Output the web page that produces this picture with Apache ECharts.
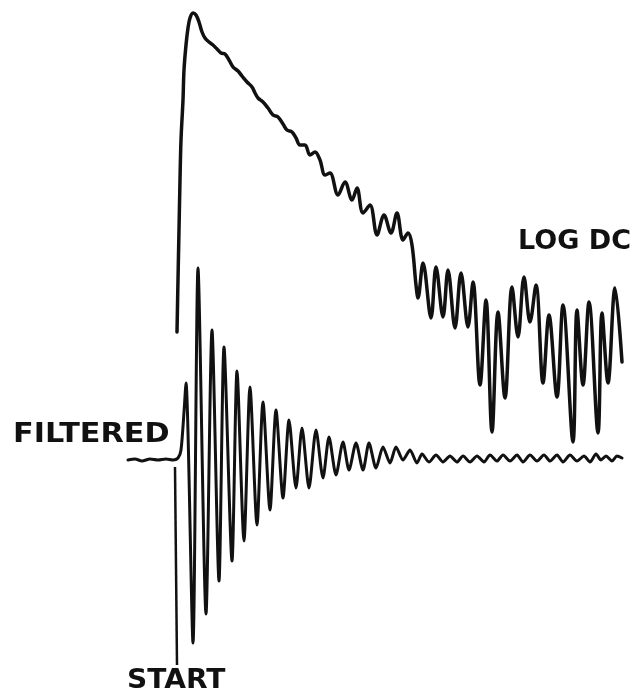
<!DOCTYPE html>
<html>
<head>
<meta charset="utf-8">
<style>
  html, body { margin: 0; padding: 0; background: #ffffff; }
  #chart { width: 640px; height: 699px; }
</style>
<script src="https://cdn.jsdelivr.net/npm/echarts@6/dist/echarts.min.js"></script>
</head>
<body>
<div id="chart"></div>
<script>
// Time base (arbitrary units, 0 = start trigger)
const logDcTime = [1, 2, 3, 4, 5, 7, 8, 10, 12, 14, 17, 20, 23, 26, 29, 33, 37, 41, 45, 49, 53, 57, 62, 66, 71, 76, 79, 82, 87, 92, 97, 102, 107, 111, 116, 120, 124, 129, 134, 139, 144, 149, 154, 162, 169, 176, 181, 187, 194, 201, 208, 215, 221, 227, 232, 236, 240, 242, 247, 255, 260, 267, 272, 279, 285, 292, 297, 304, 310, 316, 322, 329, 336, 342, 348, 354, 360, 367, 373, 381, 387, 397, 401, 407, 413, 422, 426, 432, 439, 446];
// Log DC level (arbitrary units)
const logDcLevel = [0, 52, 102, 152, 192, 232, 262, 287, 304, 314, 319, 317, 310, 300, 294, 290, 287, 283, 279, 278, 272, 265, 261, 256, 250, 245, 239, 234, 230, 224, 217, 215, 208, 202, 200, 194, 187, 187, 177, 180, 172, 157, 159, 137, 150, 132, 144, 119, 127, 97, 117, 99, 119, 92, 99, 87, 47, 34, 69, 14, 65, 15, 62, 4, 59, 5, 50, -53, 32, -100, 20, -66, 45, -5, 55, 10, 47, -51, 17, -65, 27, -110, 22, -53, 30, -101, 19, -51, 44, -30];

// Filtered signal: ringing after the start trigger
const filteredTime = [-48, -41, -34, -26, -18, -10, -3, 2, 5, 8, 10, 17, 22, 30, 36, 43, 48, 56, 61, 68, 74, 81, 87, 94, 100, 107, 113, 120, 126, 133, 140, 147, 153, 160, 167, 173, 180, 187, 193, 200, 207, 214, 220, 227, 234, 241, 246, 253, 260, 267, 274, 281, 287, 294, 301, 308, 314, 321, 327, 334, 341, 347, 354, 361, 368, 374, 381, 387, 394, 401, 408, 414, 420, 425, 430, 436, 441, 446];
const filteredAmp = [-1, 0, -2, 0, -1, 0, -1, 1, 9, 47, 76, -184, 191, -155, 129, -122, 112, -102, 88, -82, 72, -66, 57, -51, 49, -39, 39, -29, 31, -29, 29, -19, 22, -16, 17, -11, 16, -11, 16, -9, 12, -4, 12, -1, 9, -4, 5, -3, 4, -3, 3, -3, 3, -3, 3, -3, 4, -2, 4, -2, 4, -3, 4, -2, 4, -2, 4, -3, 4, -2, 3, -3, 5, -1, 3, -2, 3, 1];

// Start trigger marker
const startTime = [-1, 1];
const startAmp = [-8, -206];

const zip = (xs, ys) => xs.map((x, i) => [x, ys[i]]);

const chart = echarts.init(document.getElementById('chart'), null, { renderer: 'canvas' });

const ink = '#111111';
const labelFont = '"DejaVu Sans", "Liberation Sans", sans-serif';

chart.setOption({
  animation: false,
  backgroundColor: '#ffffff',
  grid: { left: 0, right: 0, top: 0, bottom: 0 },
  xAxis: { type: 'value', min: -176, max: 464, show: false },
  yAxis: [
    { type: 'value', min: -367, max: 332, show: false },
    { type: 'value', min: -240, max: 459, show: false }
  ],
  graphic: [
    {
      type: 'text', x: 13, y: 435, scaleX: 1.12,
      style: { text: 'FILTERED', fill: ink, fontSize: 27, fontWeight: 'bold', fontFamily: labelFont,
               align: 'left', verticalAlign: 'middle', textAlign: 'left', textVerticalAlign: 'middle' }
    },
    {
      type: 'text', x: 518, y: 242, scaleX: 1.0,
      style: { text: 'LOG DC', fill: ink, fontSize: 27, fontWeight: 'bold', fontFamily: labelFont,
               align: 'left', verticalAlign: 'middle', textAlign: 'left', textVerticalAlign: 'middle' }
    },
    {
      type: 'text', x: 127, y: 681, scaleX: 1.04,
      style: { text: 'START', fill: ink, fontSize: 27, fontWeight: 'bold', fontFamily: labelFont,
               align: 'left', verticalAlign: 'middle', textAlign: 'left', textVerticalAlign: 'middle' }
    }
  ],
  series: [
    {
      name: 'LOG DC', type: 'line', yAxisIndex: 0,
      data: zip(logDcTime, logDcLevel),
      showSymbol: false, smooth: 0.35,
      lineStyle: { color: ink, width: 3.5, join: 'round', cap: 'round' }
    },
    {
      name: 'FILTERED', type: 'line', yAxisIndex: 1,
      data: zip(filteredTime, filteredAmp),
      showSymbol: false, smooth: 0.25,
      lineStyle: { color: ink, width: 3, join: 'round', cap: 'round' }
    },
    {
      name: 'START', type: 'line', yAxisIndex: 1,
      data: zip(startTime, startAmp),
      showSymbol: false,
      lineStyle: { color: ink, width: 2.5 }
    }
  ]
});
</script>
</body>
</html>
